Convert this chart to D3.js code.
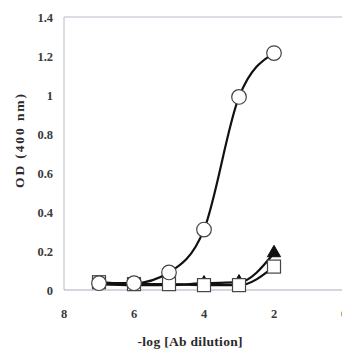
<!DOCTYPE html>
<meta charset="utf-8">
<style>
  body { margin: 0; background: #fff; }
  .tick-label { font-family: "Liberation Serif", "DejaVu Serif", serif; font-weight: bold; font-size: 12.5px; fill: #3a3a3a; }
  .axis-title { font-family: "Liberation Serif", "DejaVu Serif", serif; font-weight: bold; font-size: 13.5px; fill: #2a2a2a; }
  .line { fill: none; stroke: #111; stroke-width: 2.2px; }
</style>
<body>
<script src="https://d3js.org/d3.v7.min.js"></script>
<script>
  // dilution steps (-log)
  var dilution = [7, 6, 5, 4, 3, 2];
  // OD readings per series
  var circleOD = [0.035, 0.035, 0.09, 0.31, 0.99, 1.215];
  var triangleOD = [0.03, 0.025, 0.025, 0.035, 0.04, 0.19];
  var squareOD = [0.04, 0.03, 0.03, 0.025, 0.025, 0.12];
  var yTicks = [0, 0.2, 0.4, 0.6, 0.8, 1, 1.2, 1.4];
  var xTicks = [8, 6, 4, 2, 0];

  var width = 342, height = 349;
  var margin = {top: 17, left: 64, bottom: 59, right: -2};

  var svg = d3.select("body").append("svg")
    .attr("width", width)
    .attr("height", height);

  var x = d3.scaleLinear().domain([8, 0]).range([margin.left, width - margin.right]);
  var y = d3.scaleLinear().domain([0, 1.4]).range([height - margin.bottom, margin.top]);

  // frame
  svg.append("line")
    .attr("x1", x(8)).attr("x2", x(0))
    .attr("y1", y(1.4)).attr("y2", y(1.4))
    .attr("stroke", "#b8bccb").attr("stroke-width", 1);
  svg.append("line")
    .attr("x1", x(8)).attr("x2", x(8))
    .attr("y1", y(0)).attr("y2", y(1.4))
    .attr("stroke", "#b8bccb").attr("stroke-width", 1);
  svg.append("line")
    .attr("x1", x(8)).attr("x2", x(0))
    .attr("y1", y(0)).attr("y2", y(0))
    .attr("stroke", "#a9aebf").attr("stroke-width", 1);

  // tick labels
  svg.selectAll(".ylab").data(yTicks).enter().append("text")
    .attr("class", "tick-label")
    .attr("x", margin.left - 11)
    .attr("y", function(d) { return y(d) + 4.5; })
    .attr("text-anchor", "end")
    .text(function(d) { return d; });

  svg.selectAll(".xlab").data(xTicks).enter().append("text")
    .attr("class", "tick-label")
    .attr("x", function(d) { return x(d); })
    .attr("y", y(0) + 28)
    .attr("text-anchor", "middle")
    .text(function(d) { return d; });

  // axis titles
  svg.append("text")
    .attr("class", "axis-title")
    .attr("x", 190).attr("y", 346)
    .attr("text-anchor", "middle")
    .attr("textLength", 105)
    .attr("lengthAdjust", "spacing")
    .text("-log [Ab dilution]");
  svg.append("text")
    .attr("class", "axis-title")
    .attr("transform", "translate(24,141) rotate(-90)")
    .attr("text-anchor", "middle")
    .attr("textLength", 94)
    .attr("lengthAdjust", "spacing")
    .text("OD (400 nm)");

  var line = d3.line()
    .x(function(d) { return x(d[0]); })
    .y(function(d) { return y(d[1]); })
    .curve(d3.curveMonotoneX);

  function pairs(vals) { return dilution.map(function(d, i) { return [d, vals[i]]; }); }

  [triangleOD, squareOD, circleOD].forEach(function(s) {
    svg.append("path").attr("class", "line").attr("d", line(pairs(s)));
  });

  // triangles
  svg.selectAll(".tri").data(pairs(triangleOD)).enter().append("path")
    .attr("d", d3.symbol().type(d3.symbolTriangle).size(75))
    .attr("transform", function(d) { return "translate(" + x(d[0]) + "," + y(d[1]) + ")"; })
    .attr("fill", "#111").attr("stroke", "#111");

  // squares
  svg.selectAll(".sq").data(pairs(squareOD)).enter().append("rect")
    .attr("x", function(d) { return x(d[0]) - 6.5; })
    .attr("y", function(d) { return y(d[1]) - 6.5; })
    .attr("width", 13).attr("height", 13)
    .attr("fill", "#fff").attr("stroke", "#444").attr("stroke-width", 1.2);

  // circles
  svg.selectAll(".circ").data(pairs(circleOD)).enter().append("circle")
    .attr("cx", function(d) { return x(d[0]); })
    .attr("cy", function(d) { return y(d[1]); })
    .attr("r", 7.3)
    .attr("fill", "#fff").attr("stroke", "#444").attr("stroke-width", 1.2);
</script>
</body>
